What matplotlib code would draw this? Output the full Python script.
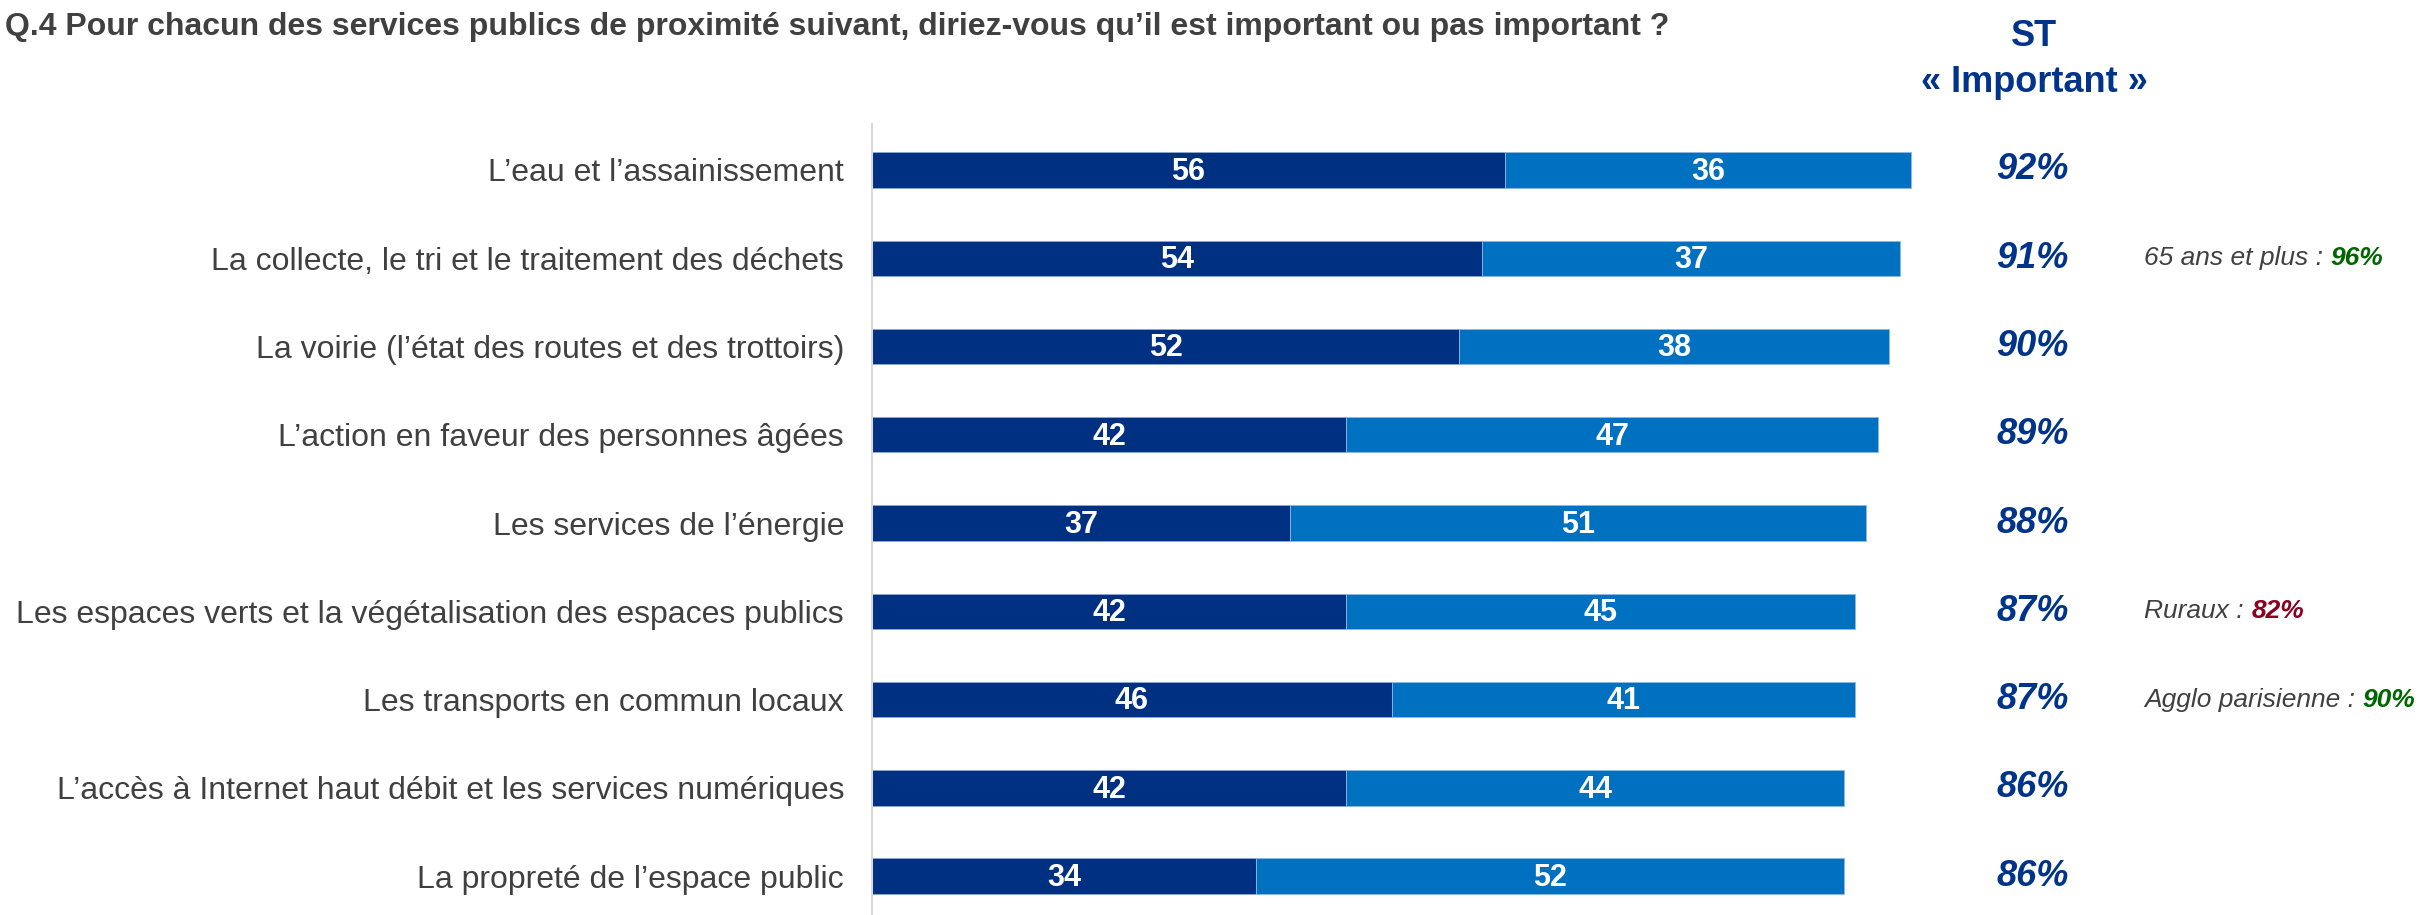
import matplotlib.pyplot as plt
import numpy as np

plt.rcParams['font.family'] = ['Liberation Sans', 'DejaVu Sans']

# Services évalués (ordre d'affichage, du haut vers le bas)
services = [
    "L’eau et l’assainissement",
    "La collecte, le tri et le traitement des déchets",
    "La voirie (l’état des routes et des trottoirs)",
    "L’action en faveur des personnes âgées",
    "Les services de l’énergie",
    "Les espaces verts et la végétalisation des espaces publics",
    "Les transports en commun locaux",
    "L’accès à Internet haut débit et les services numériques",
    "La propreté de l’espace public",
]
tres_important = [56, 54, 52, 42, 37, 42, 46, 42, 34]
plutot_important = [36, 37, 38, 47, 51, 45, 41, 44, 52]
st_important = [92, 91, 90, 89, 88, 87, 87, 86, 86]

# Sous-populations remarquables : (ligne, libellé, valeur, couleur)
notes_rows = [1, 5, 6]
notes_labels = ["65 ans et plus : ", "Ruraux : ", "Agglo parisienne : "]
notes_values = [96, 82, 90]
notes_colors = ["#006600", "#8B0021", "#006600"]

DARK = "#003082"
LIGHT = "#0070C0"
NAVY = "#00338A"
GREY = "#404040"

fig = plt.figure(figsize=(24.23, 9.15), dpi=100)
ax = fig.add_axes([0.3598, 0.0, 0.4664, 0.8645])

y = np.arange(len(services))
h = 0.40
ax.barh(y, tres_important, height=h, color=DARK, edgecolor="#8FA8D0", linewidth=0.6)
ax.barh(y, plutot_important, left=tres_important, height=h, color=LIGHT,
        edgecolor="#8FB8E0", linewidth=0.6)

for i in range(len(services)):
    a, b = tres_important[i], plutot_important[i]
    ax.text(a / 2, i + 0.02, str(a), ha="center", va="center", color="white",
            fontsize=22, fontweight="bold")
    ax.text(a + b / 2, i + 0.02, str(b), ha="center", va="center", color="white",
            fontsize=22, fontweight="bold")
    ax.text(102.7, i, f"{st_important[i]}%", ha="center", va="center",
            color=NAVY, fontsize=26, fontweight="bold", style="italic",
            clip_on=False)

for row, lab, val, col in zip(notes_rows, notes_labels, notes_values, notes_colors):
    t1 = ax.text(112.6, row, lab, ha="left", va="center", color=GREY,
                 fontsize=19, style="italic", clip_on=False)
    ax.annotate(f"{val}%", xy=(1, 0), xycoords=t1, ha="left", va="bottom",
                color=col, fontsize=19, fontweight="bold", style="italic",
                annotation_clip=False)

ax.set_xlim(0, 100)
ax.set_ylim(8.44, -0.52)
ax.set_yticks(y)
ax.set_yticklabels(services, fontsize=23, color=GREY)
ax.tick_params(axis="y", length=0, pad=20)
ax.set_xticks([])
for side in ["top", "right", "bottom"]:
    ax.spines[side].set_visible(False)
ax.spines["left"].set_color("#D9D9D9")
ax.spines["left"].set_linewidth(1.5)

fig.text(0.002, 1 - 27 / 915, "Q.4 Pour chacun des services publics de proximité suivant, "
         "diriez-vous qu’il est important ou pas important ?",
         ha="left", va="center", fontsize=23, fontweight="bold", color=GREY)
fig.text(2034 / 2423, 1 - 36 / 915, "ST", ha="center", va="center",
         fontsize=26, fontweight="bold", color=NAVY)
fig.text(2034 / 2423, 1 - 82 / 915, "« Important »", ha="center", va="center",
         fontsize=26, fontweight="bold", color=NAVY)

fig.savefig("out.png", dpi=100)
